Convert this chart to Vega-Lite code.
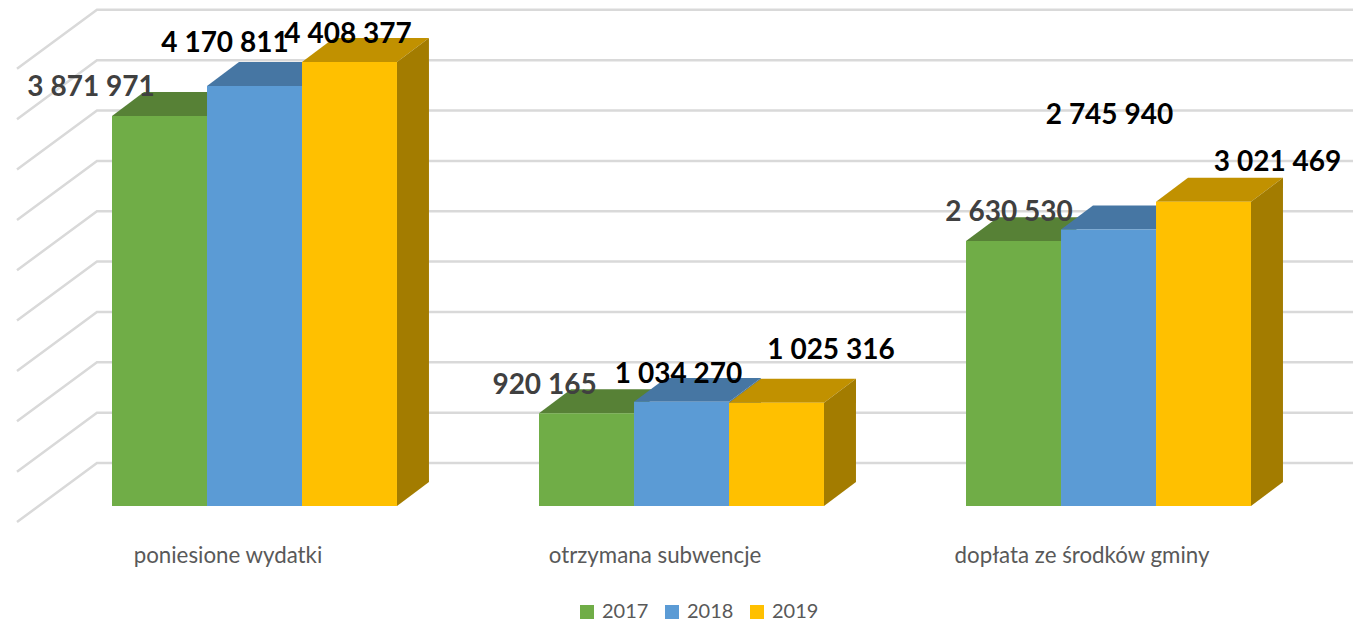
{
"$schema":"https://vega.github.io/schema/vega-lite/v6.json",
"width":1353,"height":623,"autosize":{"type":"none"},"padding":0,"background":"white",
"config":{"view":{"stroke":null},"font":"Lato"},
"datasets":{
"grid":[
{"level":0,"x":-0.5562,"y":-159000},{"level":0,"x":-0.3689,"y":427000},{"level":0,"x":2.5726,"y":427000},
{"level":500000,"x":-0.5562,"y":341000},{"level":500000,"x":-0.3689,"y":927000},{"level":500000,"x":2.5726,"y":927000},
{"level":1000000,"x":-0.5562,"y":841000},{"level":1000000,"x":-0.3689,"y":1427000},{"level":1000000,"x":2.5726,"y":1427000},
{"level":1500000,"x":-0.5562,"y":1341000},{"level":1500000,"x":-0.3689,"y":1927000},{"level":1500000,"x":2.5726,"y":1927000},
{"level":2000000,"x":-0.5562,"y":1841000},{"level":2000000,"x":-0.3689,"y":2427000},{"level":2000000,"x":2.5726,"y":2427000},
{"level":2500000,"x":-0.5562,"y":2341000},{"level":2500000,"x":-0.3689,"y":2927000},{"level":2500000,"x":2.5726,"y":2927000},
{"level":3000000,"x":-0.5562,"y":2841000},{"level":3000000,"x":-0.3689,"y":3427000},{"level":3000000,"x":2.5726,"y":3427000},
{"level":3500000,"x":-0.5562,"y":3341000},{"level":3500000,"x":-0.3689,"y":3927000},{"level":3500000,"x":2.5726,"y":3927000},
{"level":4000000,"x":-0.5562,"y":3841000},{"level":4000000,"x":-0.3689,"y":4427000},{"level":4000000,"x":2.5726,"y":4427000},
{"level":4500000,"x":-0.5562,"y":4341000},{"level":4500000,"x":-0.3689,"y":4927000},{"level":4500000,"x":2.5726,"y":4927000}
],
"faces":[
{"bar":"a2017","face":"top 2017","x":-0.3337,"y":3871971,"y2":3871971},{"bar":"a2017","face":"top 2017","x":-0.2588,"y":3871971,"y2":4109971},{"bar":"a2017","face":"top 2017","x":-0.1112,"y":3871971,"y2":4109971},{"bar":"a2017","face":"top 2017","x":-0.0363,"y":4109971,"y2":4109971},
{"bar":"a2018","face":"top 2018","x":-0.1112,"y":4170811,"y2":4170811},{"bar":"a2018","face":"top 2018","x":-0.0363,"y":4170811,"y2":4408811},{"bar":"a2018","face":"top 2018","x":0.1113,"y":4170811,"y2":4408811},{"bar":"a2018","face":"top 2018","x":0.1862,"y":4408811,"y2":4408811},
{"bar":"a2019","face":"top 2019","x":0.1113,"y":4408377,"y2":4408377},{"bar":"a2019","face":"top 2019","x":0.1862,"y":4408377,"y2":4646377},{"bar":"a2019","face":"top 2019","x":0.3337,"y":4408377,"y2":4646377},{"bar":"a2019","face":"top 2019","x":0.4086,"y":4646377,"y2":4646377},
{"bar":"b2017","face":"top 2017","x":0.6663,"y":920165,"y2":920165},{"bar":"b2017","face":"top 2017","x":0.7412,"y":920165,"y2":1158165},{"bar":"b2017","face":"top 2017","x":0.8888,"y":920165,"y2":1158165},{"bar":"b2017","face":"top 2017","x":0.9637,"y":1158165,"y2":1158165},
{"bar":"b2018","face":"top 2018","x":0.8888,"y":1034270,"y2":1034270},{"bar":"b2018","face":"top 2018","x":0.9637,"y":1034270,"y2":1272270},{"bar":"b2018","face":"top 2018","x":1.1113,"y":1034270,"y2":1272270},{"bar":"b2018","face":"top 2018","x":1.1862,"y":1272270,"y2":1272270},
{"bar":"b2018s","face":"top 2018","x":1.1113,"y":0,"y2":1034270},{"bar":"b2018s","face":"top 2018","x":1.1862,"y":238000,"y2":1272270},
{"bar":"b2019","face":"top 2019","x":1.1113,"y":1025316,"y2":1025316},{"bar":"b2019","face":"top 2019","x":1.1862,"y":1025316,"y2":1263316},{"bar":"b2019","face":"top 2019","x":1.3337,"y":1025316,"y2":1263316},{"bar":"b2019","face":"top 2019","x":1.4086,"y":1263316,"y2":1263316},
{"bar":"c2017","face":"top 2017","x":1.6663,"y":2630530,"y2":2630530},{"bar":"c2017","face":"top 2017","x":1.7412,"y":2630530,"y2":2868530},{"bar":"c2017","face":"top 2017","x":1.8888,"y":2630530,"y2":2868530},{"bar":"c2017","face":"top 2017","x":1.9637,"y":2868530,"y2":2868530},
{"bar":"c2018","face":"top 2018","x":1.8888,"y":2745940,"y2":2745940},{"bar":"c2018","face":"top 2018","x":1.9637,"y":2745940,"y2":2983940},{"bar":"c2018","face":"top 2018","x":2.1113,"y":2745940,"y2":2983940},{"bar":"c2018","face":"top 2018","x":2.1862,"y":2983940,"y2":2983940},
{"bar":"c2019","face":"top 2019","x":2.1113,"y":3021469,"y2":3021469},{"bar":"c2019","face":"top 2019","x":2.1862,"y":3021469,"y2":3259469},{"bar":"c2019","face":"top 2019","x":2.3337,"y":3021469,"y2":3259469},{"bar":"c2019","face":"top 2019","x":2.4086,"y":3259469,"y2":3259469},
{"bar":"a2019s","face":"side 2019","x":0.3337,"y":0,"y2":4408377},{"bar":"a2019s","face":"side 2019","x":0.4086,"y":238000,"y2":4646377},
{"bar":"b2019s","face":"side 2019","x":1.3337,"y":0,"y2":1025316},{"bar":"b2019s","face":"side 2019","x":1.4086,"y":238000,"y2":1263316},
{"bar":"c2019s","face":"side 2019","x":2.3337,"y":0,"y2":3021469},{"bar":"c2019s","face":"side 2019","x":2.4086,"y":238000,"y2":3259469}
],
"bars":[
{"category":"poniesione wydatki","year":"2017","value":3871971,"label":"3 871 971","x0":-0.3337,"x1":-0.1112,"lx":-0.3829,"ly":4180530},
{"category":"poniesione wydatki","year":"2018","value":4170811,"label":"4 170 811","x0":-0.1112,"x1":0.1113,"lx":-0.0691,"ly":4617450},
{"category":"poniesione wydatki","year":"2019","value":4408377,"label":"4 408 377","x0":0.1113,"x1":0.3337,"lx":0.2190,"ly":4711785},
{"category":"otrzymana subwencje","year":"2017","value":920165,"label":"920 165","x0":0.6663,"x1":0.8888,"lx":0.6792,"ly":1221390},
{"category":"otrzymana subwencje","year":"2018","value":1034270,"label":"1 034 270","x0":0.8888,"x1":1.1113,"lx":0.9930,"ly":1335585},
{"category":"otrzymana subwencje","year":"2019","value":1025316,"label":"1 025 316","x0":1.1113,"x1":1.3337,"lx":1.3501,"ly":1573905},
{"category":"dopłata ze środków gminy","year":"2017","value":2630530,"label":"2 630 530","x0":1.6663,"x1":1.8888,"lx":1.7670,"ly":2939280},
{"category":"dopłata ze środków gminy","year":"2018","value":2745940,"label":"2 745 940","x0":1.8888,"x1":2.1113,"lx":2.0023,"ly":3902490},
{"category":"dopłata ze środków gminy","year":"2019","value":3021469,"label":"3 021 469","x0":2.1113,"x1":2.3337,"lx":2.3958,"ly":3435780}
]
},
"layer":[
{"data":{"name":"grid"},"mark":{"type":"line","stroke":"#D9D9D9","strokeWidth":2.5},
 "encoding":{
  "x":{"field":"x","type":"quantitative","scale":{"domain":[-0.596,2.5726],"nice":false,"zero":false},
   "axis":{"title":null,"values":[0,1,2],"domain":false,"ticks":false,"grid":false,"offset":-79,"labelPadding":0,"labelOffset":-27,"labelFontSize":22.3,"labelLimit":0,"labelColor":"#595959","labelFont":"Lato","labelFlush":false,"labelOverlap":false,"labelExpr":"datum.value==0?'poniesione wydatki':datum.value==1?'otrzymana subwencje':'dopłata ze środków gminy'"}},
  "y":{"field":"y","type":"quantitative","scale":{"domain":[-1161810,5024580],"nice":false,"zero":false},"axis":null},
  "detail":{"field":"level"}}},
{"data":{"name":"faces"},"mark":{"type":"area","interpolate":"linear"},
 "encoding":{
  "x":{"field":"x","type":"quantitative"},
  "y":{"field":"y","type":"quantitative"},
  "y2":{"field":"y2"},
  "detail":{"field":"bar"},
  "color":{"field":"face","type":"nominal","legend":null,"scale":{"domain":["top 2017","top 2018","top 2019","side 2019"],"range":["#578136","#4676A3","#C19100","#A37C00"]}}}},
{"data":{"name":"bars"},"mark":{"type":"bar"},
 "encoding":{
  "x":{"field":"x0","type":"quantitative"},
  "x2":{"field":"x1"},
  "y":{"field":"value","type":"quantitative"},
  "y2":{"datum":0},
  "color":{"field":"year","type":"nominal","scale":{"domain":["2017","2018","2019"],"range":["#70AD47","#5B9BD5","#FFC000"]},
   "legend":{"title":null,"orient":"none","legendX":577,"legendY":602,"direction":"horizontal","symbolType":"square","symbolSize":196,"symbolStrokeWidth":0,"labelFontSize":20,"labelColor":"#595959","labelFont":"Lato","columnPadding":13,"labelOffset":5,"padding":0}}}},
{"data":{"name":"bars"},"mark":{"type":"text","font":"Lato","fontWeight":"bold","fontSize":28,"baseline":"middle","align":"center","dy":3},
 "encoding":{
  "x":{"field":"lx","type":"quantitative"},
  "y":{"field":"ly","type":"quantitative"},
  "text":{"field":"label"},
  "color":{"field":"year","type":"nominal","legend":null,"scale":{"domain":["2017","2018","2019"],"range":["#404040","#000000","#000000"]}}}}
],
"resolve":{"scale":{"color":"independent"}}
}
